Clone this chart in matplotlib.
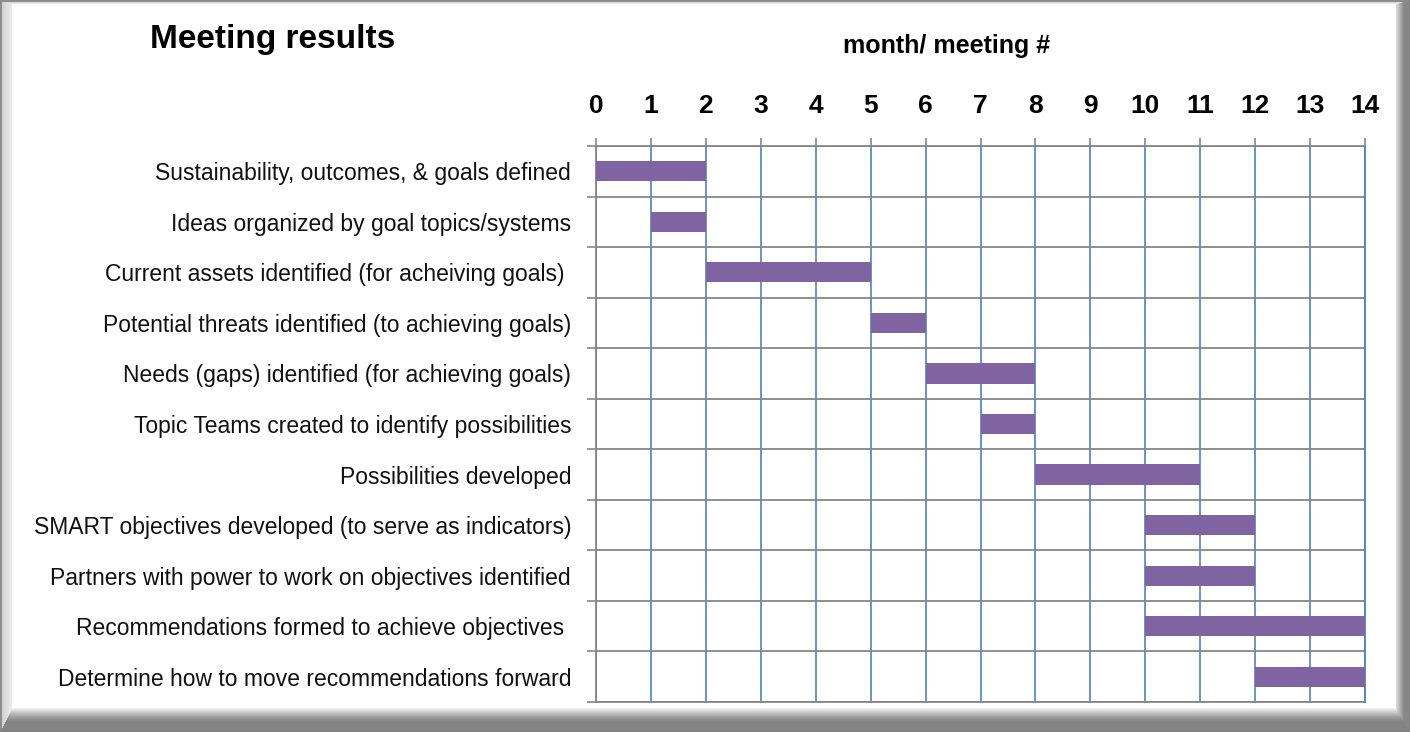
import matplotlib
matplotlib.use('Agg')
import matplotlib.pyplot as plt
from matplotlib import font_manager
import numpy as np

# 数据
tasks = [
    'Sustainability, outcomes, & goals defined',
    'Ideas organized by goal topics/systems',
    'Current assets identified (for acheiving goals) ',
    'Potential threats identified (to achieving goals)',
    'Needs (gaps) identified (for achieving goals)',
    'Topic Teams created to identify possibilities',
    'Possibilities developed',
    'SMART objectives developed (to serve as indicators)',
    'Partners with power to work on objectives identified',
    'Recommendations formed to achieve objectives ',
    'Determine how to move recommendations forward',
]
start = [0, 1, 2, 5, 6, 7, 8, 10, 10, 10, 12]
end = [2, 2, 5, 6, 8, 8, 11, 12, 12, 14, 14]
months = list(range(0, 15))

# 字体
def pick(names):
    for n in names:
        try:
            font_manager.findfont(n, fallback_to_default=False)
            return n
        except Exception:
            pass
    return 'DejaVu Sans'

bold_font = pick(['Liberation Sans', 'Arial'])
narrow_font = pick(['Liberation Sans Narrow', 'Arial Narrow', 'Liberation Sans'])

W, H = 1410, 732
fig = plt.figure(figsize=(W / 100, H / 100), dpi=100)

# 边框 (斜面)
yy, xx = np.mgrid[0:H, 0:W].astype(float)
widths = {'l': 12.0, 'r': 14.0, 't': 4.0, 'b': 24.0}
d = {'l': xx, 'r': W - 1 - xx, 't': yy, 'b': H - 1 - yy}
ratio = np.stack([d[k] / widths[k] for k in 'lrtb'])
side = np.argmin(ratio, axis=0)
rmin = ratio.min(axis=0)
t = np.clip(rmin, 0, 1)
img = np.ones((H, W, 3))
for s in range(4):
    m = (side == s) & (rmin < 1)
    if s == 0 or s == 2:      # 左/上: 浅灰
        val = 0.80 + 0.14 * t
    elif s == 1:              # 右: 深灰
        tt = np.clip((t - 0.4) / 0.6, 0, 1)
        val = 0.53 + 0.37 * tt
    else:                     # 下: 深灰
        tt = np.clip((t - 0.42) / 0.58, 0, 1)
        val = 0.52 + 0.46 * tt ** 1.3
    img[m] = val[m][:, None]
edge = (xx < 2) | (yy < 2)
img[edge] = 0.55
img[(xx > W - 2) | (yy > H - 2)] = 0.50

bg = fig.add_axes([0, 0, 1, 1], zorder=-1)
bg.imshow(img, aspect='auto', interpolation='nearest')
bg.axis('off')

# 主图
left, right, top, bottom = 596, 1365, 146, 702
ax = fig.add_axes([left / W, 1 - bottom / H, (right - left) / W, (bottom - top) / H])
ax.set_facecolor('white')
n = len(tasks)
ax.set_xlim(0, 14)
ax.set_ylim(n, 0)

ax.barh(np.arange(n) + 0.5, np.array(end) - np.array(start), left=start,
        height=0.4, color='#8064A2', zorder=3)

grey = '#868686'
blue = '#4F81BD'
ax.set_axisbelow(True)
ax.set_xticks(months)
ax.xaxis.tick_top()
ax.tick_params(axis='x', which='major', direction='out', length=6, width=1.2,
               color=grey, pad=14, labelsize=19)
for lab in ax.get_xticklabels():
    lab.set_fontfamily(bold_font)
    lab.set_fontweight('bold')
ax.grid(axis='x', color=blue, linewidth=1.2)

ax.set_yticks(np.arange(n + 1))
ax.set_yticklabels([])
ax.set_yticks(np.arange(n) + 0.5, minor=True)
ax.set_yticklabels(tasks, minor=True, fontfamily=narrow_font, fontsize=16.5, color='#111111')
ax.tick_params(axis='y', which='major', direction='out', length=6.5, width=1.2, color=grey)
ax.tick_params(axis='y', which='minor', length=0, pad=18)
ax.grid(axis='y', which='major', color=grey, linewidth=1.3)

for s in ['left', 'top', 'bottom']:
    ax.spines[s].set_color(grey)
    ax.spines[s].set_linewidth(1.3)
ax.spines['right'].set_color(blue)
ax.spines['right'].set_linewidth(1.3)

fig.text(273 / W, 1 - 48 / H, 'Meeting results', fontsize=24, fontweight='bold',
         fontfamily=bold_font, ha='center', va='baseline')
fig.text(947 / W, 1 - 53 / H, 'month/ meeting #', fontsize=18, fontweight='bold',
         fontfamily=bold_font, ha='center', va='baseline')

fig.savefig('out.png', dpi=100, facecolor='white')
plt.close()
